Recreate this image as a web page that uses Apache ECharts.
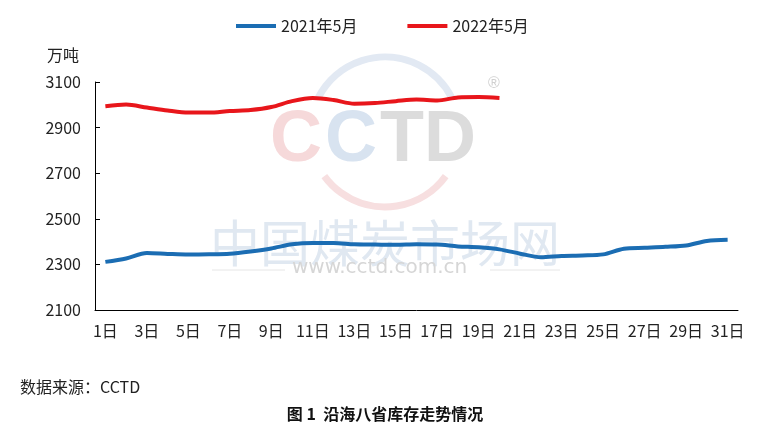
<!DOCTYPE html>
<html>
<head>
<meta charset="utf-8">
<script src="https://cdn.jsdelivr.net/npm/echarts@6/dist/echarts.min.js"></script>
<style>html,body{margin:0;padding:0;background:#fff}#c{width:770px;height:437px}</style>
</head>
<body>
<div id="c"></div>
<script>
var days = ['1日','2日','3日','4日','5日','6日','7日','8日','9日','10日','11日','12日','13日','14日','15日','16日','17日','18日','19日','20日','21日','22日','23日','24日','25日','26日','27日','28日','29日','30日','31日'];
var name2021 = '2021年5月';
var name2022 = '2022年5月';
var values2021 = [2311,2326,2350,2346,2343,2344,2347,2357,2370,2388,2394,2394,2388,2387,2386,2388,2387,2379,2375,2366,2347,2331,2337,2339,2344,2369,2373,2377,2383,2403,2408];
var values2022 = [2994,3001,2988,2975,2966,2966,2973,2977,2990,3016,3030,3021,3005,3008,3016,3023,3019,3032,3034,3030];
var yMin = 2100, yMax = 3100, yStep = 200;
var unitLabel = '万吨';
var sourceText = '数据来源：CCTD';
var captionText = '图 1  沿海八省库存走势情况';

var FONT = '"Noto Sans CJK SC", sans-serif';
var chart = echarts.init(document.getElementById('c'), null, {renderer: 'canvas'});
chart.setOption({
  animation: false,
  backgroundColor: '#fff',
  textStyle: {fontFamily: FONT},
  legend: {
    top: 13, left: 231,
    itemWidth: 40, itemHeight: 4, itemGap: 50,
    icon: 'rect',
    textStyle: {fontSize: 16, color: '#222', fontFamily: FONT},
    data: [name2021, name2022]
  },
  grid: {left: 95, right: 32, top: 82, bottom: 127},
  xAxis: {
    type: 'category',
    data: days,
    boundaryGap: true,
    axisLine: {lineStyle: {color: '#000', width: 1}},
    axisTick: {inside: true, length: 6, interval: 1, lineStyle: {color: '#000'}},
    axisLabel: {interval: 1, margin: 13, fontSize: 16, color: '#222', fontFamily: FONT}
  },
  yAxis: {
    type: 'value',
    min: yMin, max: yMax, interval: yStep,
    axisLine: {show: true, lineStyle: {color: '#000', width: 1}},
    axisTick: {show: true, inside: true, length: 5, lineStyle: {color: '#000'}},
    splitLine: {show: false},
    axisLabel: {margin: 14, fontSize: 16, color: '#222', fontFamily: FONT,
      formatter: function (v) { return String(v); }}
  },
  graphic: [
    {type: 'text', left: 47, top: 47, style: {text: unitLabel, fontSize: 16, fill: '#222', fontFamily: FONT}},
    {type: 'text', left: 20, top: 379, style: {text: sourceText, fontSize: 16, fill: '#222', fontFamily: FONT}},
    {type: 'text', left: 'center', top: 406, style: {text: captionText, fontSize: 16, fontWeight: 'bold', fill: '#111', fontFamily: FONT}},
    {type: 'group', z: -1, silent: true, children: [
      {type: 'arc', shape: {cx: 385, cy: 132, r: 75, startAngle: Math.PI * 1.15, endAngle: Math.PI * 1.85}, style: {stroke: '#e2e9f3', lineWidth: 7, fill: null}},
      {type: 'arc', shape: {cx: 385, cy: 132, r: 75, startAngle: Math.PI * 0.2, endAngle: Math.PI * 0.8}, style: {stroke: '#f7dfe0', lineWidth: 7, fill: null}},
      {type: 'text', x: 270, y: 105, style: {text: 'C', fontSize: 72, fontWeight: 'bold', fill: '#f6d9da', fontFamily: 'Liberation Sans'}},
      {type: 'text', x: 325, y: 105, style: {text: 'C', fontSize: 72, fontWeight: 'bold', fill: '#d8e3f0', fontFamily: 'Liberation Sans'}},
      {type: 'text', x: 380, y: 105, style: {text: 'TD', fontSize: 72, fontWeight: 'bold', fill: '#dcdcdc', fontFamily: 'Liberation Sans'}},
      {type: 'text', x: 488, y: 76, style: {text: '®', fontSize: 16, fill: '#d0d0d0'}},
      {type: 'text', x: 210, y: 218, style: {text: '中国煤炭市场网', fontSize: 50, fill: '#e0e8f1', fontFamily: FONT}},
      {type: 'text', x: 292, y: 258, style: {text: 'www.cctd.com.cn', fontSize: 20, fill: '#d6d6d6', fontFamily: 'DejaVu Sans'}},
      {type: 'line', shape: {x1: 212, y1: 270, x2: 285, y2: 270}, style: {stroke: '#e6e6e6', lineWidth: 1}},
      {type: 'line', shape: {x1: 490, y1: 270, x2: 560, y2: 270}, style: {stroke: '#e6e6e6', lineWidth: 1}}
    ]}
  ],
  series: [
    {name: name2021, type: 'line', data: values2021, smooth: 0.3, showSymbol: false,
     lineStyle: {color: '#1b6db3', width: 4}, itemStyle: {color: '#1b6db3'}, z: 3},
    {name: name2022, type: 'line', data: values2022, smooth: 0.3, showSymbol: false,
     lineStyle: {color: '#e8161b', width: 4}, itemStyle: {color: '#e8161b'}, z: 3}
  ]
});
</script>
</body>
</html>
